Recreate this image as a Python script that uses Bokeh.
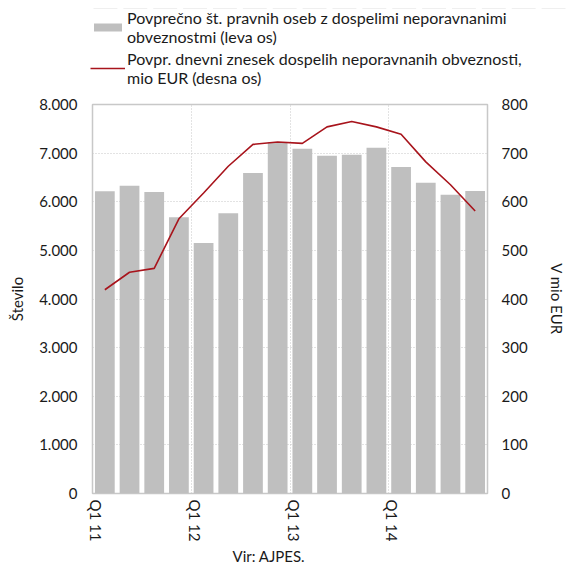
from bokeh.plotting import figure
from bokeh.models import Range1d, LinearAxis, FixedTicker, Legend, LegendItem, Title
from bokeh.embed import file_html
from bokeh.resources import INLINE

quarters = ["Q1 11", "Q2 11", "Q3 11", "Q4 11",
            "Q1 12", "Q2 12", "Q3 12", "Q4 12",
            "Q1 13", "Q2 13", "Q3 13", "Q4 13",
            "Q1 14", "Q2 14", "Q3 14", "Q4 14"]
companies = [6214, 6331, 6200, 5679, 5150, 5761, 6591, 7229,
             7092, 6948, 6968, 7112, 6715, 6392, 6146, 6221]
amounts = [419, 455, 463, 565, 618, 673, 718, 723,
           720, 754, 765, 754, 739, 682, 635, 581]
left_ticks = [0, 1000, 2000, 3000, 4000, 5000, 6000, 7000, 8000]
left_labels = ["0", "1.000", "2.000", "3.000", "4.000", "5.000", "6.000", "7.000", "8.000"]
right_ticks = [0, 100, 200, 300, 400, 500, 600, 700, 800]
shown_quarters = ["Q1 11", "Q1 12", "Q1 13", "Q1 14"]
series_names = ["Povprečno št. pravnih oseb z dospelimi neporavnanimi\nobveznostmi (leva os)",
                "Povpr. dnevni znesek dospelih neporavnanih obveznosti,\nmio EUR (desna os)"]

FONT = "Lato"
TXT = "#1a1a1a"
BAR_COLOR = "#bfbfbf"
LINE_COLOR = "#a8141c"

idx = list(range(len(quarters)))
tick_pos = [quarters.index(q) - 0.35 for q in shown_quarters]

W = 568
LEG_H = 94
H = 472
# ---------------- main chart ----------------
p = figure(width=W, height=H, output_backend="svg", toolbar_location=None,
           x_range=Range1d(-0.5, len(quarters) - 0.5), y_range=Range1d(0, 8000),
           min_border_left=92, min_border_right=71, min_border_top=10, min_border_bottom=73)
p.extra_y_ranges = {"right": Range1d(0, 800)}

bars = p.vbar(x=idx, top=companies, width=0.8, fill_color=BAR_COLOR, line_color=None)
line = p.line(x=idx, y=amounts, y_range_name="right", line_color=LINE_COLOR, line_width=1.6)

p.xaxis.ticker = FixedTicker(ticks=tick_pos)
p.xaxis.major_label_overrides = {t: q for t, q in zip(tick_pos, shown_quarters)}
p.xaxis.major_label_orientation = "vertical"
p.xaxis.major_label_standoff = 6

p.yaxis.ticker = FixedTicker(ticks=left_ticks)
p.yaxis.major_label_overrides = {t: l for t, l in zip(left_ticks, left_labels)}
p.yaxis.axis_label = "Število"
p.yaxis.axis_label_standoff = 10
p.yaxis.major_label_standoff = 15

ra = LinearAxis(y_range_name="right", ticker=FixedTicker(ticks=right_ticks),
                axis_label="V mio EUR")
ra.major_label_standoff = 14
ra.axis_label_standoff = 17
p.add_layout(ra, "right")

for ax in [p.xaxis[0], p.yaxis[0], ra]:
    ax.axis_line_color = None
    ax.major_tick_line_color = None
    ax.minor_tick_line_color = None
    ax.major_tick_out = 0
    ax.major_tick_in = 0
    ax.major_label_text_font = FONT
    ax.major_label_text_font_size = "15px"
    ax.major_label_text_color = TXT
    ax.axis_label_text_font = FONT
    ax.axis_label_text_font_size = "15px"
    ax.axis_label_text_font_style = "normal"
    ax.axis_label_text_color = TXT
ra.axis_label_orientation = "vertical"

p.ygrid.ticker = FixedTicker(ticks=left_ticks)
p.ygrid.grid_line_color = "#c6c6c6"
p.ygrid.grid_line_dash = "1 2"
p.xgrid.ticker = FixedTicker(ticks=[3.5, 7.5, 11.5])
p.xgrid.grid_line_color = "#c6c6c6"
p.xgrid.grid_line_dash = "1 2"

p.outline_line_color = "#c8c8c8"
p.outline_line_width = 1.5

src = Title(text="Vir: AJPES.", align="left", offset=140, text_font=FONT,
            text_font_size="15px", text_font_style="normal", text_color=TXT,
            standoff=0)
p.add_layout(src, "below")

# ---------------- legend strip (series drawn out of view, only legend visible) ----------------
lg = figure(width=W, height=LEG_H, output_backend="svg", toolbar_location=None,
            x_range=Range1d(-0.5, len(quarters) - 0.5), y_range=Range1d(-2, -1),
            min_border_left=90, min_border_right=0, min_border_top=8, min_border_bottom=0)
lg.axis.visible = False
lg.grid.visible = False
lg.outline_line_color = None
lb = lg.vbar(x=idx, top=companies, width=0.8, fill_color=BAR_COLOR, line_color=None)
ll = lg.line(x=idx, y=amounts, line_color=LINE_COLOR, line_width=1.6)

legend = Legend(items=[LegendItem(label=series_names[0], renderers=[lb]),
                       LegendItem(label=series_names[1], renderers=[ll])],
                location="top_left", orientation="vertical")
legend.label_text_font = FONT
legend.label_text_font_size = "16px"
legend.label_text_color = TXT
legend.label_text_line_height = 1.3
legend.glyph_width = 35
legend.glyph_height = 10
legend.label_standoff = 2
legend.spacing = 3
legend.padding = 0
legend.margin = 0
legend.border_line_color = None
legend.background_fill_alpha = 0
lg.add_layout(legend)

open("out.html", "w").write(file_html([lg, p], INLINE))
